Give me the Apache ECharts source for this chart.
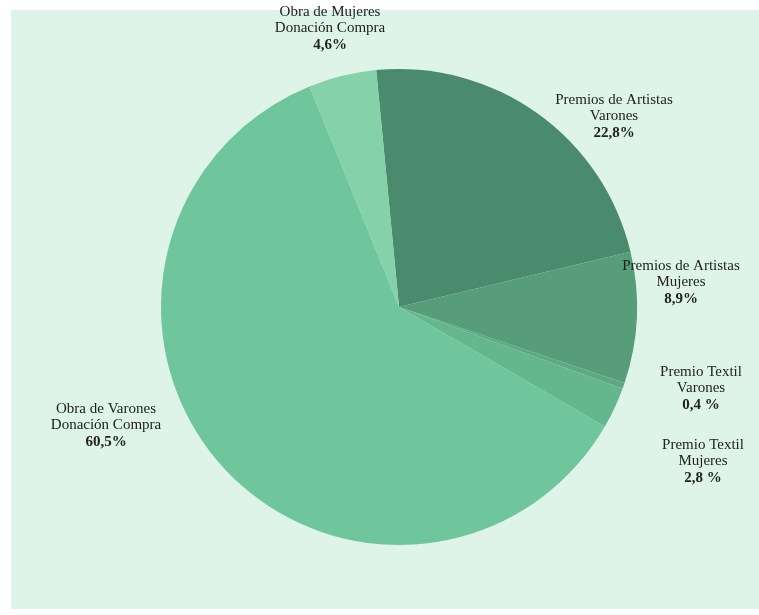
<!DOCTYPE html>
<html>
<head>
<meta charset="utf-8">
<script src="https://cdn.jsdelivr.net/npm/echarts@6/dist/echarts.min.js"></script>
<style>
  html, body { margin: 0; padding: 0; background: #ffffff; }
  #chart { width: 759px; height: 615px; }
</style>
</head>
<body>
<div id="chart"></div>
<script>
// Categories in clockwise order, starting just left of 12 o'clock
const categories = [
  'Premios de Artistas\nVarones',
  'Premios de Artistas\nMujeres',
  'Premio Textil\nVarones',
  'Premio Textil\nMujeres',
  'Obra de Varones\nDonación Compra',
  'Obra de Mujeres\nDonación Compra'
];
const values = [22.8, 8.9, 0.4, 2.8, 60.5, 4.6];
const percentSuffix = ['%', '%', ' %', ' %', '%', '%'];
const sliceColors = ['#4b8b6d', '#579d79', '#5ea983', '#64b78c', '#6fc69c', '#85d2aa'];

// Where each label block is centred
const labelCenters = [
  [614, 117],
  [681, 283],
  [701, 389],
  [703, 462],
  [106, 426],
  [330, 29]
];

const chart = echarts.init(document.getElementById('chart'), null, { renderer: 'canvas' });

chart.setOption({
  backgroundColor: '#ffffff',
  animation: false,
  graphic: [{
    type: 'rect',
    silent: true,
    z: -10,
    shape: { x: 11, y: 10, width: 748, height: 599 },
    style: { fill: '#dff4e9' }
  }],
  series: [{
    type: 'pie',
    center: [399, 307],
    radius: 238,
    startAngle: 95.5,
    clockwise: true,
    avoidLabelOverlap: false,
    itemStyle: { borderWidth: 0 },
    labelLine: { show: false },
    label: {
      show: true,
      position: 'outside',
      formatter: function (p) {
        const pct = p.value.toFixed(1).replace('.', ',') + percentSuffix[p.dataIndex];
        return '{n|' + p.name.split('\n').join('}\n{n|') + '}\n{v|' + pct + '}';
      },
      align: 'center',
      rich: {
        n: { fontFamily: 'Liberation Serif', fontSize: 15, color: '#222222', lineHeight: 16, align: 'center' },
        v: { fontFamily: 'Liberation Serif', fontSize: 15, fontWeight: 'bold', color: '#222222', lineHeight: 17, align: 'center' }
      }
    },
    labelLayout: function (params) {
      const c = labelCenters[params.dataIndex];
      return { x: c[0], y: c[1], align: 'center', verticalAlign: 'middle' };
    },
    emphasis: { disabled: true },
    data: categories.map(function (name, i) {
      return { name: name, value: values[i], itemStyle: { color: sliceColors[i] } };
    })
  }]
});
</script>
</body>
</html>
